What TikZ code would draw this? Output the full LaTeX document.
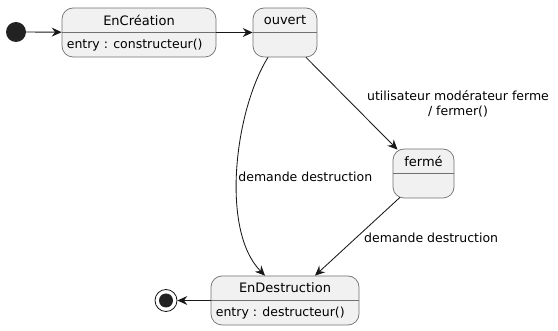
\documentclass[tikz,border=0pt]{standalone}
\usepackage{fontspec}
\setmainfont{DejaVu Sans}
\usetikzlibrary{arrows.meta}

\definecolor{statefill}{HTML}{F1F1F1}
\definecolor{stateline}{HTML}{707070}
\definecolor{arrowline}{HTML}{181818}
\definecolor{dot}{HTML}{222222}

% position / name / width / title of every state
\def\states{{(139, 32.5)/cre/154/EnCréation}, {(285, 32.5)/ouv/64/ouvert}, {(423.5, 173.5)/fer/61/fermé}, {(285, 300.5)/des/148/EnDestruction}}

\tikzstyle{state}=[draw=stateline, fill=statefill, line width=0.7pt, rounded corners=11pt, minimum height=49pt, inner sep=0pt]
\tikzstyle{title}=[font=\fontsize{13}{15}\selectfont]
\tikzstyle{entry}=[font=\fontsize{12.5}{15}\selectfont, anchor=west, inner sep=0pt]
\tikzstyle{guard}=[font=\fontsize{12.5}{15}\selectfont, align=center, inner sep=0pt]
\tikzstyle{transition}=[draw=arrowline, line width=0.85pt, -{Stealth[length=10pt, width=9pt, inset=3.5pt]}]
\tikzstyle{initial}=[circle, fill=dot, minimum size=20pt, inner sep=0pt]
\tikzstyle{final}=[circle, draw=arrowline, line width=0.8pt, minimum size=22pt, inner sep=0pt]

\begin{document}
\begin{tikzpicture}[x=1pt, y=-1pt]
  \useasboundingbox (0, 0) rectangle (558, 331);

  % First the states, each with its title and a divider
  \foreach \pos/\name/\boxw/\statename in \states {
    \node[state, minimum width=\boxw pt] (\name) at \pos {};
    \draw[stateline, line width=0.7pt] (\name.west) -- (\name.east);
    \node[title] at ([yshift=-12.5pt]\name.north) {\statename};
  }
  \node[entry] at ([xshift=5pt, yshift=-12.5pt]cre.west) {entry : constructeur()};
  \node[entry] at ([xshift=5pt, yshift=-12.5pt]des.west) {entry : destructeur()};

  % start and end points
  \node[initial] (start) at (16, 32) {};
  \node[final] (stop) at (166, 300.5) {};
  \fill[dot] (stop) circle (7pt);

  % Connect the states with transitions
  \path[transition] (start) -- (cre);
  \path[transition] (cre) -- (ouv);
  \path[transition] ([xshift=-17pt]ouv.south) .. controls (235, 110) and (220, 230) .. ([xshift=-20pt]des.north)
    node[guard, pos=0.53, anchor=west, xshift=1pt] {demande destruction};
  \path[transition] ([xshift=21pt]ouv.south) -- ([xshift=-26pt, yshift=-1pt]fer.north);
  \node[guard] at (458, 103.5) {utilisateur modérateur ferme\\/ fermer()};
  \path[transition] ([xshift=-23.5pt, yshift=1pt]fer.south) -- ([xshift=30pt]des.north);
  \node[guard, anchor=west] at (364, 238) {demande destruction};
  \path[transition] (des) -- (stop);
\end{tikzpicture}
\end{document}
